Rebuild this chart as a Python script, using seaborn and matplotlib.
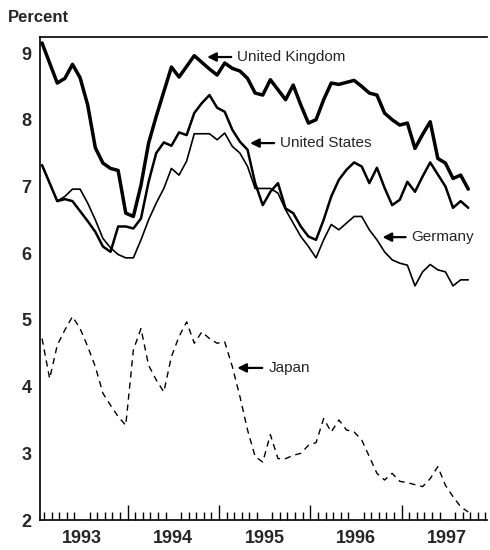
import numpy as np
import pandas as pd
import matplotlib.pyplot as plt
import seaborn as sns

# monthly long-term rates, Jan 1993 - Sep 1997
months = pd.period_range('1993-01', '1997-09', freq='M')

uk = [9.15, 8.85, 8.55, 8.62, 8.83, 8.63, 8.22, 7.58, 7.35, 7.27, 7.24, 6.60,
      6.55, 7.02, 7.65, 8.05, 8.42, 8.79, 8.64, 8.80, 8.96, 8.86, 8.76, 8.67,
      8.85, 8.77, 8.73, 8.62, 8.40, 8.37, 8.60, 8.45, 8.30, 8.52, 8.22, 7.95,
      8.00, 8.30, 8.55, 8.53, 8.56, 8.59, 8.50, 8.40, 8.37, 8.10, 8.00, 7.92,
      7.95, 7.57, 7.78, 7.97, 7.42, 7.35, 7.12, 7.17, 6.96]
us = [7.32, 7.05, 6.78, 6.81, 6.78, 6.63, 6.48, 6.32, 6.10, 6.02, 6.40, 6.40,
      6.37, 6.52, 7.07, 7.50, 7.66, 7.61, 7.81, 7.77, 8.10, 8.25, 8.37, 8.18,
      8.12, 7.85, 7.67, 7.55, 7.05, 6.72, 6.92, 7.05, 6.67, 6.60, 6.40, 6.25,
      6.20, 6.50, 6.85, 7.10, 7.25, 7.36, 7.30, 7.05, 7.28, 6.98, 6.72, 6.80,
      7.07, 6.92, 7.15, 7.36, 7.18, 7.00, 6.68, 6.78, 6.68]
germany = [7.32, 7.05, 6.78, 6.85, 6.96, 6.96, 6.75, 6.50, 6.22, 6.08, 5.98, 5.93,
           5.93, 6.20, 6.50, 6.75, 6.97, 7.27, 7.17, 7.38, 7.79, 7.79, 7.79, 7.70,
           7.80, 7.60, 7.50, 7.30, 6.97, 6.97, 6.97, 6.90, 6.65, 6.45, 6.25, 6.10,
           5.93, 6.20, 6.43, 6.35, 6.45, 6.55, 6.55, 6.35, 6.20, 6.02, 5.90, 5.85,
           5.82, 5.51, 5.72, 5.83, 5.75, 5.72, 5.51, 5.60, 5.60]
japan = [4.72, 4.12, 4.62, 4.85, 5.05, 4.87, 4.60, 4.30, 3.90, 3.72, 3.55, 3.42,
         4.55, 4.87, 4.32, 4.10, 3.92, 4.45, 4.75, 4.97, 4.65, 4.82, 4.72, 4.65,
         4.67, 4.30, 3.85, 3.35, 2.95, 2.87, 3.28, 2.92, 2.92, 2.97, 3.00, 3.12,
         3.16, 3.52, 3.32, 3.50, 3.35, 3.32, 3.20, 2.95, 2.70, 2.60, 2.70, 2.58,
         2.56, 2.53, 2.50, 2.62, 2.80, 2.52, 2.35, 2.20, 2.12]

countries = ['United Kingdom', 'United States', 'Germany', 'Japan']
t = months.year + (months.month - 1 + 0.75) / 12

df = pd.concat([
    pd.DataFrame({'t': t, 'rate': vals, 'country': name})
    for name, vals in zip(countries, [uk, us, germany, japan])
])

sns.set_style('white')
plt.rcParams['font.family'] = ['Liberation Sans', 'DejaVu Sans']

fig = plt.figure(figsize=(4.9, 5.5), dpi=100)
ax = fig.add_axes([0.0816, 0.0545, 0.9124, 0.8782])

sns.lineplot(data=df, x='t', y='rate', hue='country', size='country', style='country',
             palette={c: 'black' for c in countries},
             sizes={'United Kingdom': 2.5, 'United States': 1.8, 'Germany': 1.2, 'Japan': 1.0},
             dashes={'United Kingdom': '', 'United States': '', 'Germany': '', 'Japan': (4.5, 3.5)},
             legend=False, ax=ax)

ax.set_xlim(1993.04, 1997.935)
ax.set_ylim(2, 9.24)
ax.set_xlabel('')
ax.set_ylabel('')

# y axis
ax.set_yticks(range(2, 10))
ax.tick_params(axis='y', length=0, pad=6, labelsize=13)
for lab in ax.get_yticklabels():
    lab.set_fontweight('bold')

# year labels centred in each year, monthly ticks inside
years = [1993, 1994, 1995, 1996, 1997]
ax.set_xticks([y + 0.5 for y in years])
ax.set_xticklabels([str(y) for y in years], fontweight='bold', fontsize=13)
ax.tick_params(axis='x', which='major', length=0, pad=7)
month_ticks = [1993 + k / 12 for k in range(1, 60) if k % 12]
ax.set_xticks(month_ticks, minor=True)
ax.tick_params(axis='x', which='minor', direction='in', length=6, width=1, color='black', bottom=True)

sec = ax.secondary_xaxis('bottom')
sec.set_xticks(years[1:])
sec.tick_params(direction='in', length=11, width=1, color='black', labelbottom=False)
for s in sec.spines.values():
    s.set_visible(False)

for side in ['left', 'bottom', 'top']:
    ax.spines[side].set_color('black')
    ax.spines[side].set_linewidth(1.2)
ax.spines['right'].set_visible(False)

arrow = dict(arrowstyle='-|>', color='black', lw=1.6, mutation_scale=13, shrinkA=2, shrinkB=0)
labels = [('United Kingdom', (1994.87, 8.94), (1995.20, 8.94)),
          ('United States', (1995.34, 7.65), (1995.67, 7.65)),
          ('Germany', (1996.79, 6.24), (1997.11, 6.24)),
          ('Japan', (1995.20, 4.28), (1995.54, 4.28))]
for text, head, pos in labels:
    ax.annotate(text, xy=head, xytext=pos, ha='left', va='center', fontsize=11,
                arrowprops=arrow)

fig.text(0.016, 0.969, 'Percent', fontsize=12, fontweight='bold', ha='left', va='center')

fig.savefig('out.png', dpi=100)
